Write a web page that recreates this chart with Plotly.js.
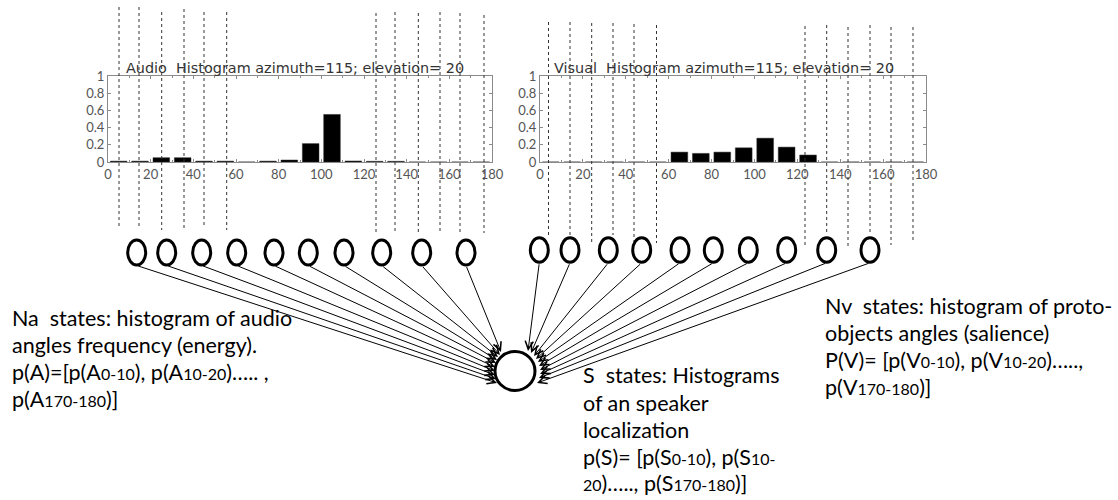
<!DOCTYPE html>
<html><head><meta charset="utf-8">
<script src="https://cdn.plot.ly/plotly-3.0.1.min.js"></script>
<style>html,body{margin:0;padding:0;background:#fff}</style>
</head><body><div id="chart" style="width:1118px;height:500px"></div>
<script>
// ---------------- data ----------------
const binCenters   = [5,15,25,35,45,55,65,75,85,95,105,115,125,135,145,155,165,175];
const audioValues  = [0.01,0.01,0.05,0.05,0.01,0.01,0,0.01,0.023,0.214,0.553,0.012,0.008,0.008,0,0,0,0];
const visualValues = [0,0,0,0,0,0,0.115,0.10,0.115,0.165,0.277,0.173,0.081,0,0,0,0,0];
const xTickVals  = [0,20,40,60,80,100,120,140,160,180];
const xTickText  = ['0','20','40','60','80','100','120','140','160','180'];
const yTickVals  = [0,0.2,0.4,0.6,0.8,1];
const yTickText  = ['0','0.2','0.4','0.6','0.8','1'];
const audioTitle  = 'Audio\u00a0 Histogram azimuth=115; elevation= 20';
const visualTitle = 'Visual\u00a0 Histogram azimuth=115; elevation= 20';
const sm = s => '<span style="font-size:16px">' + s + '</span>';
const naLines = ['Na\u00a0 states: histogram of audio',
                 'angles frequency (energy).',
                 'p(A)=[p(A' + sm('0-10') + '), p(A' + sm('10-20') + ')….. ,',
                 'p(A' + sm('170-180') + ')]'];
const sLines  = ['S\u00a0 states: Histograms',
                 'of an speaker',
                 'localization',
                 'p(S)= [p(S' + sm('0-10') + '), p(S' + sm('10-'),
                 sm('20') + ')….., p(S' + sm('170-180') + ')]'];
const nvLines = ['Nv\u00a0 states: histogram of proto-',
                 'objects angles (salience)',
                 'P(V)= [p(V' + sm('0-10') + '), p(V' + sm('10-20') + ')…..,',
                 'p(V' + sm('170-180') + ')]'];

// ---------------- geometry (pixels) ----------------
const W = 1118, H = 500;
const audioBox  = {x0:108, x1:492, y0:76, y1:162};
const visualBox = {x0:540, x1:926, y0:76, y1:162};
const audioGuides = {x:[119,139,161.7,184,204,226.7,376,395,418.3,440,460,484],
                     top:[7,7,12,9,12,12,13,12,13,12,13,15],
                     bot:[227,227,230,230,228,230,232,232,233,232,232,233]};
const visualGuides = {x:[548.5,570,591.7,613,634,656.5,805,826.7,848,870,891,913],
                      top:[22,22,23,23,24,25,26,25,27,25,27,27],
                      bot:[235,235,242,235,242,243,245,235,246,235,245,242]};
const audioNodes  = {x:[136.7,166.7,201.7,236.7,274,308.3,344,381.7,421.7,466], y:252.5, rx:9, ry:12.5};
const visualNodes = {x:[539.3,570,608.3,641.7,680,713.3,748.3,786.7,826.7,870], y:250, rx:9, ry:12.3};
const hub = {x:515, y:371, rx:20, ry:19.5};
const audioHeads  = [[497,383],[496,379],[495,375],[495,371],[495,367],[496,363],[497,360],[498,357],[500,355],[501,352]];
const visualHeads = [[528,351],[531,353],[534,356],[536,359],[538,362],[539,366],[540,370],[540,374],[539,378],[537,383]];
const naPos = {x:10,  y:[318,345,372,399]};
const sPos  = {x:581, y:[375,403,430,457,483]};
const nvPos = {x:823, y:[306,333,360,387]};

// ---------------- build ----------------
const FONT = 'Lato, Carlito, "Open Sans", sans-serif';
const TITLE_FONT = '"DejaVu Sans", Verdana, sans-serif';
function histX(box, anchor){
  return {domain:[box.x0/W, box.x1/W], range:[0,180], anchor:anchor,
    showline:true, linecolor:'#8a8a8a', linewidth:1, mirror:'ticks',
    ticks:'inside', ticklen:3, tickcolor:'#8a8a8a',
    tickmode:'array', tickvals:xTickVals, ticktext:xTickText,
    minor:{tickmode:'linear', tick0:0, dtick:10, ticks:'inside', ticklen:2, tickcolor:'#8a8a8a'},
    tickfont:{family:FONT, size:13, color:'#555'},
    showgrid:false, zeroline:false, fixedrange:true};
}
function histY(box, anchor){
  return {domain:[1-box.y1/H, 1-box.y0/H], range:[0,1], anchor:anchor,
    showline:true, linecolor:'#8a8a8a', linewidth:1, mirror:'ticks',
    ticks:'inside', ticklen:3, tickcolor:'#8a8a8a',
    tickmode:'array', tickvals:yTickVals, ticktext:yTickText,
    tickfont:{family:FONT, size:13, color:'#555'},
    showgrid:false, zeroline:false, fixedrange:true};
}

const traces = [
  {type:'bar', x:binCenters, y:audioValues, width:7.8, xaxis:'x', yaxis:'y',
   marker:{color:'#000', line:{color:'#333', width:0.5}}, hoverinfo:'skip'},
  {type:'bar', x:binCenters, y:visualValues, width:7.8, xaxis:'x2', yaxis:'y2',
   marker:{color:'#000', line:{color:'#333', width:0.5}}, hoverinfo:'skip'},
  {type:'scatter', x:[], y:[], xaxis:'x3', yaxis:'y3', hoverinfo:'skip'}
];

const shapes = [];
function guides(g){
  g.x.forEach((x,i)=>shapes.push({type:'line', xref:'x3', yref:'y3', layer:'above',
    x0:x, x1:x, y0:g.top[i], y1:g.bot[i], line:{color:'#333', width:1, dash:'dot'}}));
}
guides(audioGuides); guides(visualGuides);
function nodes(n){
  n.x.forEach(x=>shapes.push({type:'circle', xref:'x3', yref:'y3', layer:'above',
    x0:x-n.rx, x1:x+n.rx, y0:n.y-n.ry, y1:n.y+n.ry,
    fillcolor:'#fff', line:{color:'#000', width:3}}));
}
nodes(audioNodes); nodes(visualNodes);
shapes.push({type:'circle', xref:'x3', yref:'y3', layer:'above',
  x0:hub.x-hub.rx, x1:hub.x+hub.rx, y0:hub.y-hub.ry, y1:hub.y+hub.ry,
  fillcolor:'#fff', line:{color:'#000', width:3}});

const annotations = [];
function arrows(n, heads){
  n.x.forEach((x,i)=>annotations.push({xref:'x3', yref:'y3', axref:'x3', ayref:'y3',
    x:heads[i][0], y:heads[i][1], ax:x, ay:n.y+n.ry+0.5, text:'',
    showarrow:true, arrowhead:5, arrowsize:1.6, arrowwidth:1, arrowcolor:'#000',
    standoff:0, startstandoff:0}));
}
arrows(audioNodes, audioHeads); arrows(visualNodes, visualHeads);

function textBlock(lines, pos){
  lines.forEach((t,i)=>annotations.push({xref:'x3', yref:'y3', x:pos.x, y:pos.y[i],
    xanchor:'left', yanchor:'middle', text:t, showarrow:false, align:'left',
    font:{family:FONT, size:21.5, color:'#000'}}));
}
textBlock(naLines, naPos); textBlock(sLines, sPos); textBlock(nvLines, nvPos);

annotations.push({xref:'x3', yref:'y3', x:124, y:68, xanchor:'left', yanchor:'middle',
  text:audioTitle, showarrow:false, font:{family:TITLE_FONT, size:14.4, color:'#333'}});
annotations.push({xref:'x3', yref:'y3', x:552, y:68, xanchor:'left', yanchor:'middle',
  text:visualTitle, showarrow:false, font:{family:TITLE_FONT, size:14.4, color:'#333'}});

const layout = {
  width:W, height:H, autosize:false, margin:{l:0,r:0,t:0,b:0,pad:0},
  paper_bgcolor:'#fff', plot_bgcolor:'rgba(0,0,0,0)', showlegend:false, bargap:0,
  font:{family:FONT, color:'#000'},
  xaxis:histX(audioBox,'y'), yaxis:histY(audioBox,'x'),
  xaxis2:histX(visualBox,'y2'), yaxis2:histY(visualBox,'x2'),
  xaxis3:{domain:[0,1], range:[0,W], anchor:'y3', visible:false, fixedrange:true},
  yaxis3:{domain:[0,1], range:[H,0], anchor:'x3', visible:false, fixedrange:true},
  shapes:shapes, annotations:annotations
};
Plotly.newPlot('chart', traces, layout, {staticPlot:true, displayModeBar:false});
</script></body></html>
